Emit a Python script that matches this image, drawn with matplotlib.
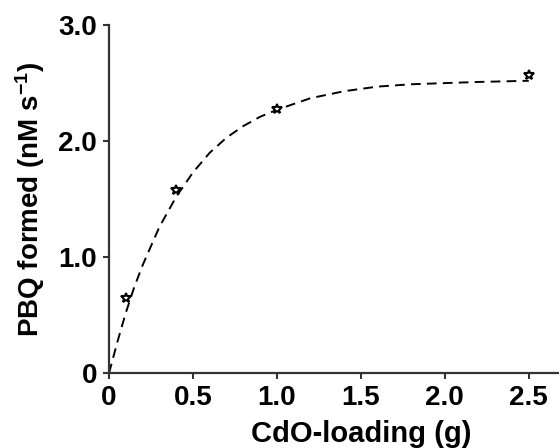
import matplotlib
matplotlib.use("Agg")
import matplotlib.pyplot as plt

# measured PBQ formation vs CdO loading
loading = [0.1, 0.4, 1.0, 2.5]
pbq_rate = [0.65, 1.58, 2.28, 2.57]

# fitted saturation curve (dashed), sampled along the trace
fit_x = [0, 0.05, 0.1, 0.15, 0.2, 0.3, 0.4, 0.5, 0.6, 0.7, 0.8, 0.9, 1.0,
         1.2, 1.4, 1.6, 1.8, 2.0, 2.2, 2.5]
fit_y = [0, 0.27, 0.52, 0.74, 0.93, 1.26, 1.52, 1.73, 1.90, 2.03, 2.13, 2.21,
         2.27, 2.37, 2.43, 2.47, 2.49, 2.50, 2.51, 2.52]

xticks = [0, 0.5, 1.0, 1.5, 2.0, 2.5]
xtick_labels = ["0", "0.5", "1.0", "1.5", "2.0", "2.5"]
yticks = [0, 1.0, 2.0, 3.0]
ytick_labels = ["0", "1.0", "2.0", "3.0"]

plt.rcParams["font.family"] = ["Liberation Sans", "DejaVu Sans"]
plt.rcParams["font.weight"] = "bold"
plt.rcParams["mathtext.fontset"] = "custom"
plt.rcParams["mathtext.rm"] = "Liberation Sans:bold"
plt.rcParams["mathtext.default"] = "rm"

fig = plt.figure(figsize=(5.59, 4.48), dpi=100)
ax = fig.add_axes([0.195, 0.167, 0.805, 0.777])

ax.plot(fit_x, fit_y, color="black", lw=1.4, linestyle=(0, (5, 3.2)))
ax.plot(loading, pbq_rate, linestyle="none", marker="*", ms=7.5,
        mfc="white", mec="black", mew=1.5)

ax.set_xlim(0, 2.68)
ax.set_ylim(0, 3.0)
ax.set_xticks(xticks)
ax.set_xticklabels(xtick_labels)
ax.set_yticks(yticks)
ax.set_yticklabels(ytick_labels)

for side in ["top", "right"]:
    ax.spines[side].set_visible(False)
for side in ["left", "bottom"]:
    ax.spines[side].set_linewidth(1.6)
    ax.spines[side].set_color("#333333")

ax.tick_params(axis="both", direction="out", length=4, width=1.5,
               color="#333333", labelsize=20, pad=4.5)

ax.set_xlabel("CdO-loading (g)", fontsize=21, fontweight="bold")
ax.xaxis.set_label_coords(0.56, -0.135)
ax.set_ylabel(r"PBQ formed (nM s$^{-1}$)", fontsize=20, fontweight="bold")
ax.yaxis.set_label_coords(-0.138, 0.5)

fig.savefig("out.png", dpi=100)
